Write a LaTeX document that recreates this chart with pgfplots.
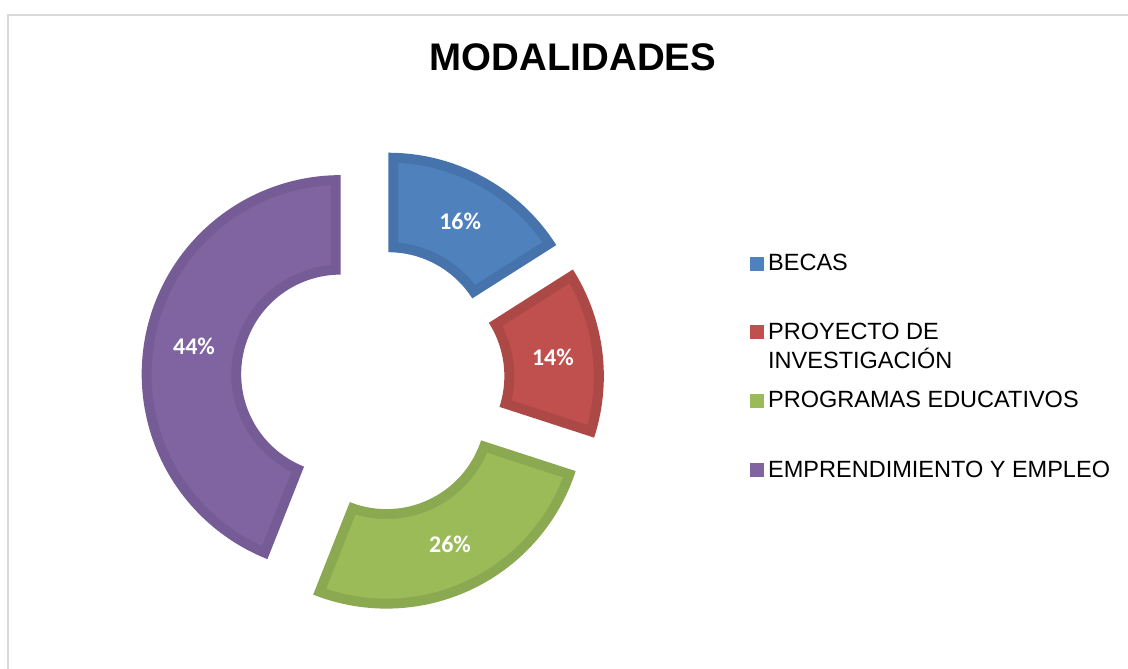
\documentclass[border=0pt]{standalone}
\usepackage{pgfplots}
\pgfplotsset{compat=1.18}
\usepackage{fontspec}
\setmainfont{Liberation Sans}
\newfontfamily\calibri{Carlito}
\definecolor{cBlue}{HTML}{4F81BD}
\definecolor{cBlueD}{HTML}{4673AB}
\definecolor{cRed}{HTML}{C0504D}
\definecolor{cRedD}{HTML}{AC4845}
\definecolor{cGreen}{HTML}{9BBB59}
\definecolor{cGreenD}{HTML}{8BA950}
\definecolor{cPurple}{HTML}{8064A2}
\definecolor{cPurpleD}{HTML}{765C96}
\definecolor{frameGray}{HTML}{D9D9D9}
\def\cx{372.6}\def\cy{288.8}\def\Ro{199}\def\ri{99.5}\def\dd{32.5}\def\ww{10}
\newcommand{\lblfont}{\calibri\bfseries\fontsize{24}{28}\selectfont}
\newcommand{\legfont}{\fontsize{23.6}{28}\selectfont}
% #1 start (%), #2 value (%), #3 fill colour, #4 border colour
\newcommand{\slice}[4]{%
 \pgfmathsetmacro{\aone}{90-3.6*(#1+#2)}%
 \pgfmathsetmacro{\atwo}{90-3.6*(#1)}%
 \pgfmathsetmacro{\amid}{((\aone)+(\atwo))/2}%
 \pgfmathsetmacro{\ox}{\cx+\dd*cos(\amid)}%
 \pgfmathsetmacro{\oy}{\cy+\dd*sin(\amid)}%
 \pgfmathsetmacro{\Rb}{\Ro-\ww}%
 \pgfmathsetmacro{\rb}{\ri+\ww}%
 \pgfmathsetmacro{\aoneO}{(\aone)+asin(\ww/\Rb)}%
 \pgfmathsetmacro{\atwoO}{(\atwo)-asin(\ww/\Rb)}%
 \pgfmathsetmacro{\aoneI}{(\aone)+asin(\ww/\rb)}%
 \pgfmathsetmacro{\atwoI}{(\atwo)-asin(\ww/\rb)}%
 \pgfmathsetmacro{\lx}{\cx+(\dd+(\Ro+\ri)/2)*cos(\amid)}%
 \pgfmathsetmacro{\ly}{\cy+(\dd+(\Ro+\ri)/2)*sin(\amid)}%
 \edef\doslice{%
  \noexpand\addplot[fill=#4, draw=none, variable=\noexpand\t, samples at={0,...,201}]
   ({(\ox)+ifthenelse(\noexpand\t<100.5, (\Ro)*cos((\aone)+((\atwo)-(\aone))*\noexpand\t/100), (\ri)*cos((\atwo)+((\aone)-(\atwo))*(\noexpand\t-101)/100))},
    {(\oy)+ifthenelse(\noexpand\t<100.5, (\Ro)*sin((\aone)+((\atwo)-(\aone))*\noexpand\t/100), (\ri)*sin((\atwo)+((\aone)-(\atwo))*(\noexpand\t-101)/100))});
  \noexpand\addplot[fill=#3, draw=none, variable=\noexpand\t, samples at={0,...,201}]
   ({(\ox)+ifthenelse(\noexpand\t<100.5, (\Rb)*cos((\aoneO)+((\atwoO)-(\aoneO))*\noexpand\t/100), (\rb)*cos((\atwoI)+((\aoneI)-(\atwoI))*(\noexpand\t-101)/100))},
    {(\oy)+ifthenelse(\noexpand\t<100.5, (\Rb)*sin((\aoneO)+((\atwoO)-(\aoneO))*\noexpand\t/100), (\rb)*sin((\atwoI)+((\aoneI)-(\atwoI))*(\noexpand\t-101)/100))});
  \noexpand\node[text=white, font=\noexpand\lblfont, anchor=center] at (axis cs:\lx,\ly) {#2\noexpand\%};
 }%
 \doslice
}
\begin{document}
\begin{tikzpicture}
\useasboundingbox (0,0) rectangle (1128bp,669bp);
\clip (0,0) rectangle (1128bp,669bp);
\fill[white] (0,0) rectangle (1128bp,669bp);
\draw[frameGray, line width=1.6bp] (8bp,-5bp) -- (8bp,654bp) -- (1135bp,654bp);
\begin{axis}[hide axis, x=1bp, y=1bp, xmin=0, xmax=1128, ymin=0, ymax=669,
  at={(0,0)}, anchor=south west, clip=false]
 \slice{0}{16}{cBlue}{cBlueD}
 \slice{16}{14}{cRed}{cRedD}
 \slice{30}{26}{cGreen}{cGreenD}
 \slice{56}{44}{cPurple}{cPurpleD}
\end{axis}
\node[anchor=base, font=\bfseries\fontsize{38.6}{46}\selectfont] at (573bp,598bp) {MODALIDADES};
\fill[cBlue] (750bp,398bp) rectangle (764bp,412bp);
\node[anchor=base west, inner sep=0, font=\legfont] at (768bp,398bp) {BECAS};
\fill[cRed] (750bp,329.7bp) rectangle (764bp,343.7bp);
\node[anchor=base west, inner sep=0, font=\legfont] at (768bp,329.7bp) {PROYECTO DE};
\node[anchor=base west, inner sep=0, font=\legfont] at (768bp,300.7bp) {INVESTIGACIÓN};
\fill[cGreen] (750bp,261.3bp) rectangle (764bp,275.3bp);
\node[anchor=base west, inner sep=0, font=\legfont] at (768bp,261.3bp) {PROGRAMAS EDUCATIVOS};
\fill[cPurple] (750bp,191.7bp) rectangle (764bp,205.7bp);
\node[anchor=base west, inner sep=0, font=\legfont] at (768bp,191.7bp) {EMPRENDIMIENTO Y EMPLEO};
\end{tikzpicture}
\end{document}
